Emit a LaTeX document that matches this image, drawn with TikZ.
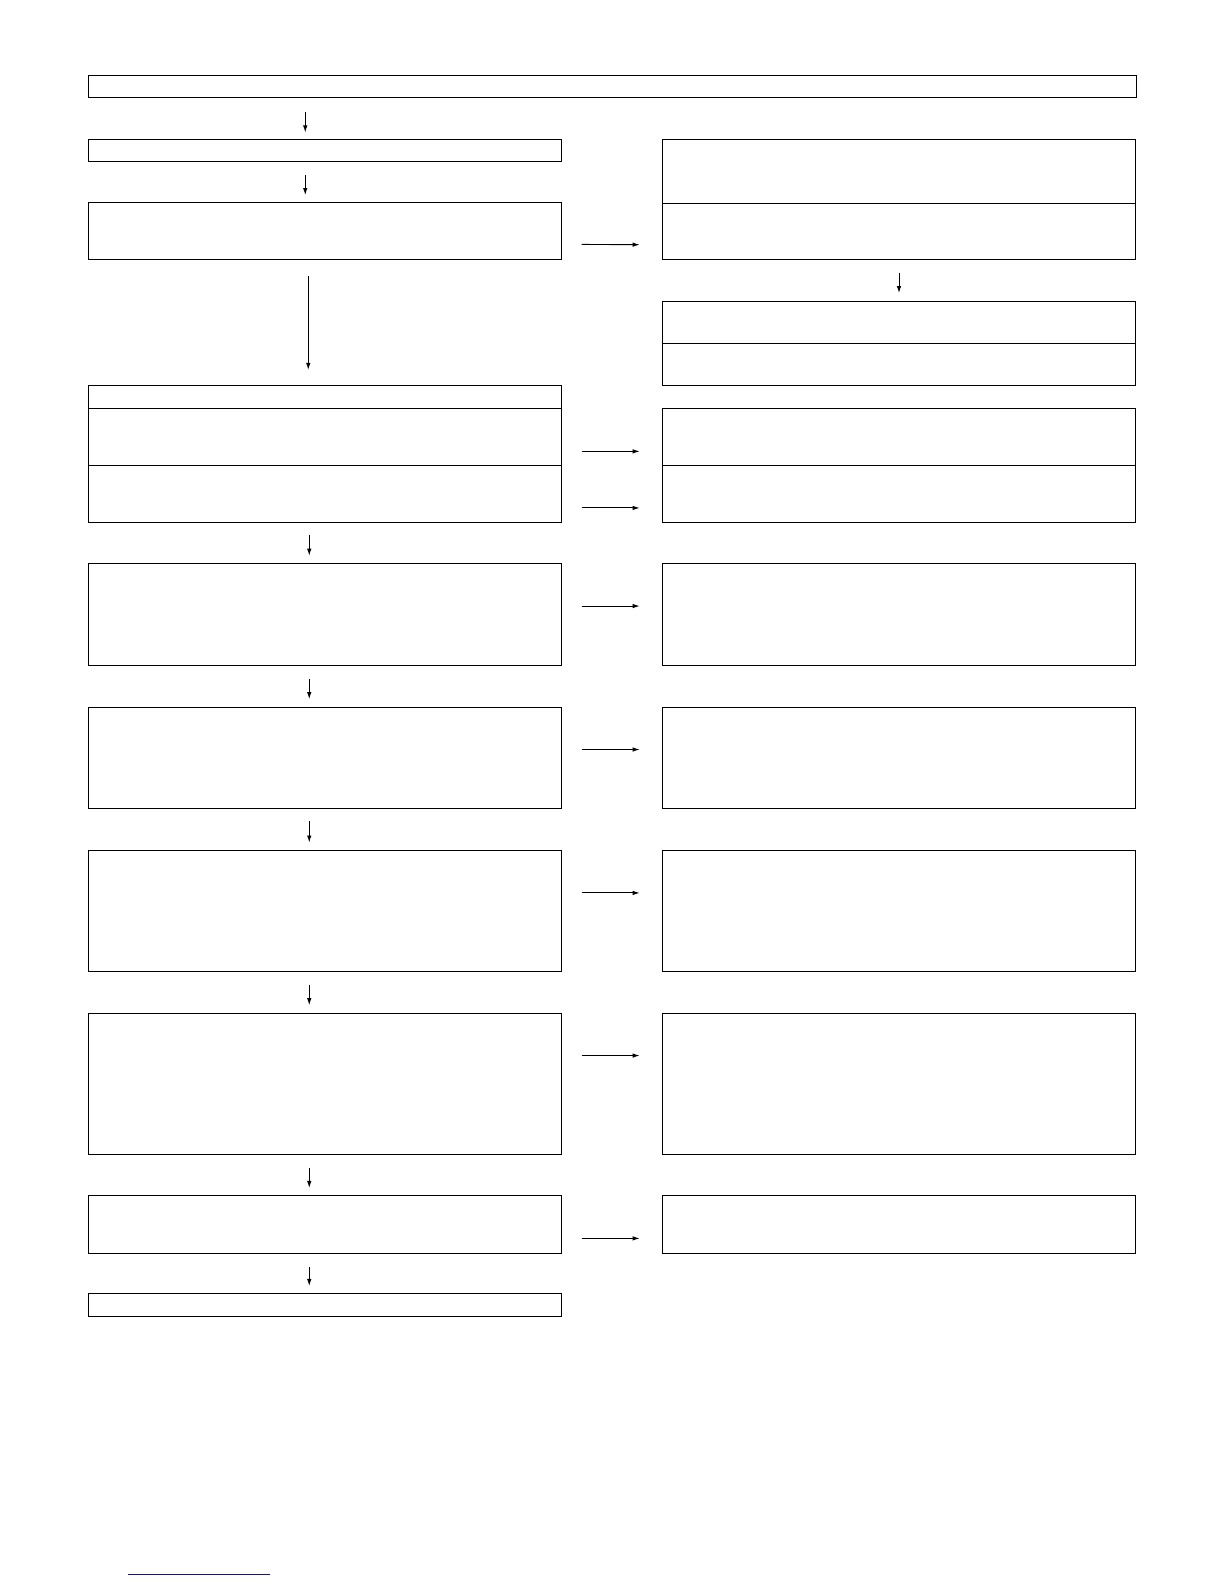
\documentclass[tikz,border=0pt]{standalone}
\usetikzlibrary{arrows.meta}

\begin{document}
\def\u{1.0101pt}
\begin{tikzpicture}[x=\u,y=-\u,
    box/.style={draw,line width=1pt,inner sep=0pt,outer sep=0pt,anchor=north west},
    arr/.style={-{Latex[length=7pt,width=4.5pt]},line width=0.9pt}]
  \def\lx{88};   % left column
  \def\rx{656};  % right column
  \def\bw{468*\u};
  \useasboundingbox (0,0) rectangle ({1224/1.0101},{1584/1.0101});

  % top row and the first left boxes
  \node[box,minimum width=1037*\u,minimum height=22*\u] (top) at (\lx,75) {};
  \node[box,minimum width=\bw,minimum height=22*\u] (l1) at (\lx,138) {};
  \node[box,minimum width=\bw,minimum height=57*\u] (l2) at (\lx,200) {};

  % right boxes, split in two
  \node[box,minimum width=\bw,minimum height=63*\u] (r1a) at (\rx,138) {};
  \node[box,minimum width=\bw,minimum height=56*\u] (r1b) at (\rx,201) {};
  \node[box,minimum width=\bw,minimum height=42*\u] (r2a) at (\rx,298) {};
  \node[box,minimum width=\bw,minimum height=42*\u] (r2b) at (\rx,340) {};

  % left box in three parts, right box in two
  \node[box,minimum width=\bw,minimum height=22*\u] (l3a) at (\lx,382) {};
  \node[box,minimum width=\bw,minimum height=57*\u] (l3b) at (\lx,404) {};
  \node[box,minimum width=\bw,minimum height=56*\u] (l3c) at (\lx,461) {};
  \node[box,minimum width=\bw,minimum height=57*\u] (r3a) at (\rx,404) {};
  \node[box,minimum width=\bw,minimum height=56*\u] (r3b) at (\rx,461) {};

  \foreach \n/\t/\h/\dy in {4/558/101/8.5,5/700/100/8,6/842/120/18,7/1003/140/28,8/1184/57/-13.5} { %for each pair of boxes
    \node[box,minimum width=\bw,minimum height=\h*\u] (l\n) at (\lx,\t) {};
    \node[box,minimum width=\bw,minimum height=\h*\u] (r\n) at (\rx,\t) {};
    \draw[arr,shorten <=20pt,shorten >=23pt] ([yshift=\dy*\u]l\n.east) -- ([yshift=\dy*\u]r\n.west);
  }
  \node[box,minimum width=\bw,minimum height=22*\u] (l9) at (\lx,1281) {};

  % arrows to the right
  \draw[arr,shorten <=20pt,shorten >=23pt] ([yshift=-13.5pt]l2.east) -- ([yshift=-13.5pt]r1b.west);
  \draw[arr,shorten <=20pt,shorten >=23pt] ([yshift=-14.5pt]l3b.east) -- ([yshift=-14.5pt]r3a.west);
  \draw[arr,shorten <=20pt,shorten >=23pt] ([yshift=-14pt]l3c.east) -- ([yshift=-14pt]r3b.west);

  % arrows down
  \draw[arr,shorten <=14pt,shorten >=7pt] ([xshift=-20pt]l1.north |- top.south) -- ([xshift=-20pt]l1.north);
  \draw[arr,shorten <=13pt,shorten >=7pt] ([xshift=-20pt]l1.south) -- ([xshift=-20pt]l2.north);
  \draw[arr,shorten <=16pt,shorten >=16pt] ([xshift=-17pt]l2.south) -- ([xshift=-17pt]l3a.north);
  \draw[arr,shorten <=13pt,shorten >=8pt] (r1b.south) -- (r2a.north);
  \foreach \a/\b in {l3c/l4,l4/l5,l5/l6,l6/l7,l7/l8,l8/l9} {
    \draw[arr,shorten <=13pt,shorten >=8pt] ([xshift=-16pt]\a.south) -- ([xshift=-16pt]\b.north);
  }

  % blue rule at the foot
  \draw[line width=1.3pt,color={rgb,255:red,20;green,20;blue,130}] (127,1559) -- (267,1559);
\end{tikzpicture}
\end{document}
